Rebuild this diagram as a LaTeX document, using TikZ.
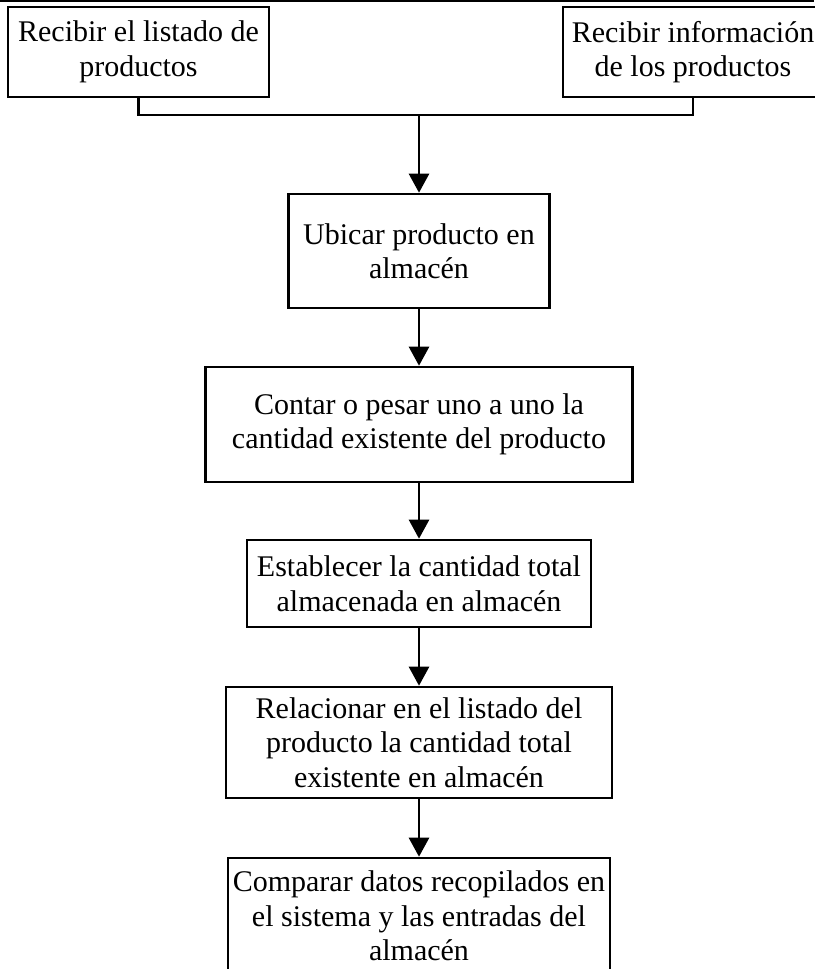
\documentclass[tikz,border=0pt]{standalone}
\usepackage{fontspec}
\setmainfont{Liberation Serif}
\usetikzlibrary{arrows.meta}

\begin{document}
\begin{tikzpicture}[x=1pt,y=-1pt,
  line width=2.6pt,
  stepbox/.style={draw, rectangle, align=center, inner sep=0pt,
    font=\fontsize{30}{34.5}\selectfont},
  flow/.style={-{Triangle[width=20pt,length=19pt]}}
]
\useasboundingbox (0,0) rectangle (814,969);

% rule along the top edge
\coordinate (tl) at (0,1);
\coordinate (tr) at (814,1);
\draw (tl) -- (tr);

% process steps
\node[stepbox, minimum width=261pt, minimum height=90pt] (b1) at (138.5,52)
  {Recibir el listado de\\productos};
\node[stepbox, minimum width=260pt, minimum height=90pt] (b2) at (693,52)
  {Recibir información\\de los productos};
\node[stepbox, minimum width=261pt, minimum height=114pt] (b3) at (419,251)
  {Ubicar producto en\\almacén};
\node[stepbox, minimum width=427pt, minimum height=115pt] (b4) at (419,424.5)
  {Contar o pesar uno a uno la\\cantidad existente del producto};
\node[stepbox, minimum width=344pt, minimum height=87pt] (b5) at (419,583.5)
  {Establecer la cantidad total\\almacenada en almacén};
\node[stepbox, minimum width=386pt, minimum height=111pt] (b6) at (419,742.5)
  {Relacionar en el listado del\\producto la cantidad total\\existente en almacén};
\node[stepbox, minimum width=382pt, minimum height=116pt] (b7) at (419,916)
  {Comparar datos recopilados en\\el sistema y las entradas del\\almacén};

% merge of the two inputs
\coordinate (j) at (419,115);
\draw (b1.south) |- (j) -| (b2.south);
\draw[flow] (j) -- (b3.north);

% sequence
\draw[flow] (b3.south) -- (b4.north);
\draw[flow] (b4.south) -- (b5.north);
\draw[flow] (b5.south) -- (b6.north);
\draw[flow] (b6.south) -- (b7.north);
\end{tikzpicture}
\end{document}
